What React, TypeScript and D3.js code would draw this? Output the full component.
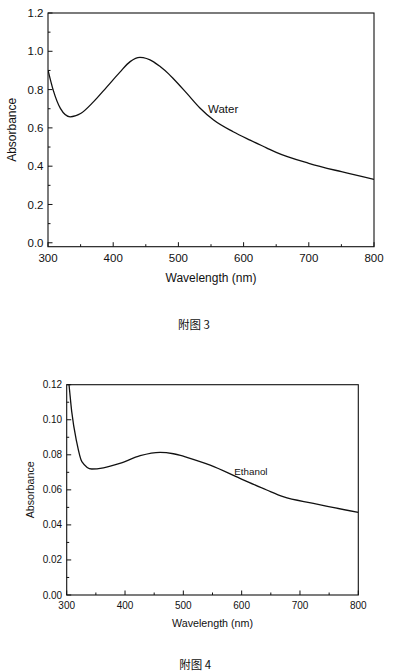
import React from "react";
import * as d3 from "d3";

const waterWl = [300, 308, 319, 334, 350, 370, 390, 410, 426, 441, 462, 472, 485, 492, 513, 533, 554, 584, 610, 635, 650, 700, 750, 800];
const waterAbs = [0.902, 0.797, 0.702, 0.658, 0.675, 0.737, 0.813, 0.89, 0.946, 0.968, 0.945, 0.92, 0.882, 0.858, 0.78, 0.704, 0.641, 0.58, 0.536, 0.496, 0.472, 0.415, 0.371, 0.331];

const ethWl = [300, 304, 308.6, 317, 326, 343, 363, 391, 426, 460, 483, 495, 506, 546, 597, 643, 671, 723, 800];
const ethAbs = [0.132, 0.1198, 0.1046, 0.0875, 0.0761, 0.0719, 0.0726, 0.0751, 0.0795, 0.0814, 0.0806, 0.0797, 0.0786, 0.0741, 0.0666, 0.0599, 0.0561, 0.0523, 0.0471];

const xTicks = [300, 400, 500, 600, 700, 800];
const xMinor = [350, 450, 550, 650, 750];
const yTicksTop = [0, 0.2, 0.4, 0.6, 0.8, 1.0, 1.2];
const yMinorTop = [0.1, 0.3, 0.5, 0.7, 0.9, 1.1];
const yTicksBot = [0, 0.02, 0.04, 0.06, 0.08, 0.1, 0.12];
const yMinorBot = [0.01, 0.03, 0.05, 0.07, 0.09, 0.11];

const FONT = "Liberation Sans, Arial, sans-serif";

type PanelProps = {
  id: string;
  left: number; right: number; top: number; bottom: number;
  yDomain: [number, number];
  yTicks: number[]; yMinor: number[]; yFmt: (v: number) => string;
  wl: number[]; abs: number[];
  tickFont: number; labelFont: number;
  yLabelX: number; xTickY: number; xLabelY: number;
  seriesLabel: string; seriesX: number; seriesY: number; seriesFont: number;
  caption: string; captionX: number; captionY: number;
};

function Panel(p: PanelProps) {
  const x = d3.scaleLinear().domain([300, 800]).range([p.left, p.right]);
  const y = d3.scaleLinear().domain(p.yDomain).range([p.bottom, p.top]);
  const pts = p.wl.map((w, i) => [w, p.abs[i]] as [number, number]);
  const line = d3.line<[number, number]>().x(d => x(d[0])).y(d => y(d[1])).curve(d3.curveMonotoneX);
  const cx = (p.left + p.right) / 2;
  const cy = (p.top + p.bottom) / 2;
  return (
    <g>
      <defs>
        <clipPath id={p.id}>
          <rect x={p.left} y={p.top} width={p.right - p.left} height={p.bottom - p.top} />
        </clipPath>
      </defs>
      <rect x={p.left} y={p.top} width={p.right - p.left} height={p.bottom - p.top} fill="none" stroke="#111" strokeWidth={1.1} />
      {xTicks.map(t => (
        <g key={"xt" + t}>
          <line x1={x(t)} x2={x(t)} y1={p.bottom} y2={p.bottom - 4.5} stroke="#111" strokeWidth={1} />
          <text x={x(t)} y={p.xTickY} textAnchor="middle" fontSize={p.tickFont} fontFamily={FONT} fill="#111">{t}</text>
        </g>
      ))}
      {xMinor.map(t => (
        <line key={"xm" + t} x1={x(t)} x2={x(t)} y1={p.bottom} y2={p.bottom - 2.5} stroke="#111" strokeWidth={1} />
      ))}
      {p.yTicks.map(t => (
        <g key={"yt" + t}>
          <line x1={p.left} x2={p.left + 4.5} y1={y(t)} y2={y(t)} stroke="#111" strokeWidth={1} />
          <text x={p.left - 4.5} y={y(t)} dy="0.35em" textAnchor="end" fontSize={p.tickFont} fontFamily={FONT} fill="#111">{p.yFmt(t)}</text>
        </g>
      ))}
      {p.yMinor.map(t => (
        <line key={"ym" + t} x1={p.left} x2={p.left + 2.5} y1={y(t)} y2={y(t)} stroke="#111" strokeWidth={1} />
      ))}
      <path d={line(pts) || ""} fill="none" stroke="#111" strokeWidth={1.3} clipPath={`url(#${p.id})`} />
      <text x={p.seriesX} y={p.seriesY} fontSize={p.seriesFont} fontFamily={FONT} fill="#111">{p.seriesLabel}</text>
      <text x={cx} y={p.xLabelY} textAnchor="middle" fontSize={p.labelFont} fontFamily={FONT} fill="#111">Wavelength (nm)</text>
      <text transform={`translate(${p.yLabelX},${cy}) rotate(-90)`} textAnchor="middle" dy="0.35em" fontSize={p.labelFont} fontFamily={FONT} fill="#111">Absorbance</text>
      <text x={p.captionX} y={p.captionY} fontSize={11.5} fontFamily="'Noto Sans CJK SC', serif" fill="#111">{p.caption}</text>
    </g>
  );
}

export default function App() {
  return (
    <svg width={395} height={672} style={{ position: "absolute", left: 0, top: 0, background: "#fff" }}>
      <rect x={0} y={0} width={395} height={672} fill="#fff" />
      <Panel
        id="clipTop"
        left={48} right={374} top={13} bottom={246.7}
        yDomain={[-0.0205, 1.2]}
        yTicks={yTicksTop} yMinor={yMinorTop} yFmt={d3.format(".1f")}
        wl={waterWl} abs={waterAbs}
        tickFont={11.5} labelFont={12}
        yLabelX={12} xTickY={261.5} xLabelY={282}
        seriesLabel="Water" seriesX={208} seriesY={113} seriesFont={11.5}
        caption="附图 3" captionX={178} captionY={328.5}
      />
      <Panel
        id="clipBot"
        left={66.7} right={358.3} top={384.7} bottom={595}
        yDomain={[0, 0.12]}
        yTicks={yTicksBot} yMinor={yMinorBot} yFmt={d3.format(".2f")}
        wl={ethWl} abs={ethAbs}
        tickFont={10} labelFont={10.7}
        yLabelX={30} xTickY={608.6} xLabelY={626.5}
        seriesLabel="Ethanol" seriesX={234.3} seriesY={474.5} seriesFont={9.8}
        caption="附图 4" captionX={179.3} captionY={668.5}
      />
    </svg>
  );
}
